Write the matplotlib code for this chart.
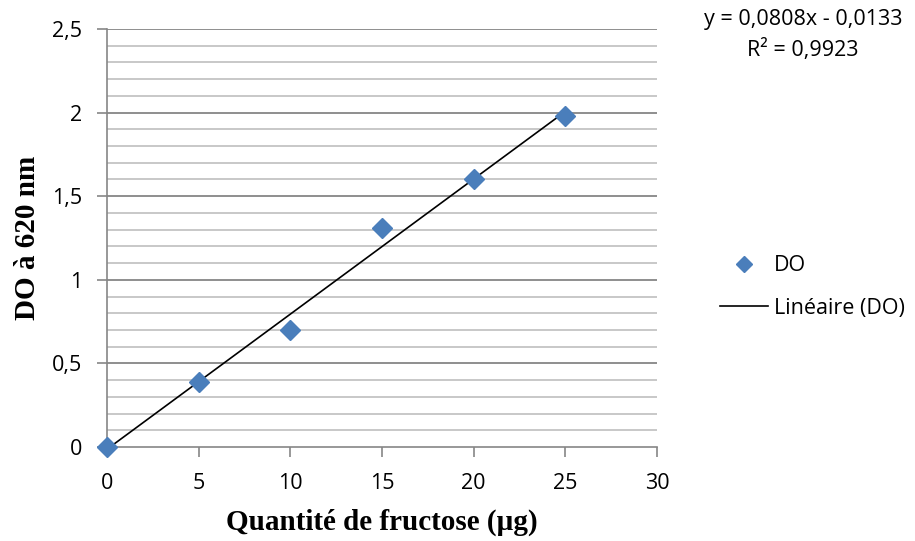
import matplotlib.pyplot as plt
import numpy as np
from matplotlib.lines import Line2D

# data
fructose = [0, 5, 10, 15, 20, 25]
do_620 = [0, 0.39, 0.70, 1.31, 1.60, 1.98]
slope = 0.0808
intercept = -0.0133
r2 = 0.9923

x_ticks = [0, 5, 10, 15, 20, 25, 30]
y_ticks = [0, 0.5, 1, 1.5, 2, 2.5]

blue = '#4A7EBB'
tick_font = 'Open Sans'
label_font = 'Liberation Serif'

fig = plt.figure(figsize=(9.15, 5.41), dpi=100)
ax = fig.add_axes([107/915, 1 - 447/541, 550/915, 418/541])

ax.set_xlim(0, 30)
ax.set_ylim(0, 2.5)

# gridlines: light minor every 0.1, darker major every 0.5
for v in np.arange(0.1, 2.5, 0.1):
    if abs(v / 0.5 - round(v / 0.5)) > 1e-6:
        ax.axhline(v, color='#BFBFBF', lw=1.2, zorder=0)
for v in y_ticks[1:]:
    ax.axhline(v, color='#868686', lw=1.3, zorder=0)

# trendline
xt = np.array([0, 25])
ax.plot(xt, slope * xt + intercept, color='black', lw=1.2, zorder=2)
ax.plot(fructose, do_620, linestyle='none', marker='D', markersize=10,
        color=blue, markeredgecolor=blue, zorder=3, clip_on=False)

ax.set_xticks(x_ticks)
ax.set_yticks(y_ticks)
ax.set_xticklabels([str(v) for v in x_ticks], fontfamily=tick_font, fontsize=15.5)
ax.set_yticklabels([('%g' % v).replace('.', ',') for v in y_ticks],
                   fontfamily=tick_font, fontsize=15.5)
ax.tick_params(axis='both', color='#868686', length=7, width=1.2)
ax.tick_params(axis='x', pad=12)
ax.tick_params(axis='y', pad=11)

for s in ['top', 'right']:
    ax.spines[s].set_visible(False)
ax.spines['left'].set_color('#868686')
ax.spines['bottom'].set_color('#868686')
ax.spines['left'].set_linewidth(1.2)
ax.spines['bottom'].set_linewidth(1.2)

ax.set_xlabel('Quantité de fructose (µg)', fontfamily=label_font,
              fontweight='bold', fontsize=21, labelpad=10)
ax.set_ylabel('DO à 620 nm', fontfamily=label_font, fontweight='bold',
              fontsize=21, labelpad=8)

# equation of the trendline
fig.text(803/915, 1 - 20/541,
         'y = %sx - %s' % (('%.4f' % slope).replace('.', ','),
                           ('%.4f' % -intercept).replace('.', ',')),
         ha='center', va='center', fontfamily=tick_font, fontsize=15.5)
fig.text(803/915, 1 - 50/541, 'R² = ' + ('%.4f' % r2).replace('.', ','),
         ha='center', va='center', fontfamily=tick_font, fontsize=15.5)

handles = [Line2D([], [], linestyle='none', marker='D', markersize=8,
                  color=blue),
           Line2D([], [], color='black', lw=1.2)]
fig.legend(handles, ['DO', 'Linéaire (DO)'], loc='center left',
           bbox_to_anchor=(701/915, 1 - 287/541), frameon=False,
           prop={'family': tick_font, 'size': 15.5}, handlelength=2.2,
           handletextpad=0.3, labelspacing=1.0)

fig.savefig('out.png', dpi=100)
